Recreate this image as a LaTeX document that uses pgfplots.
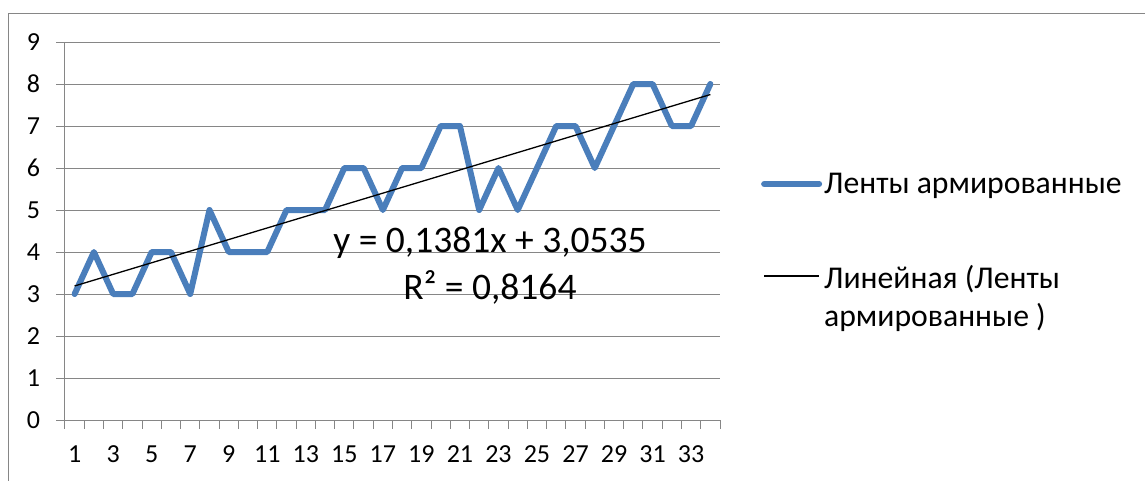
\documentclass[border=0pt]{standalone}
\usepackage{pgfplots}
\pgfplotsset{compat=1.18}
\usepackage{fontspec}
\setmainfont{Carlito}
\definecolor{serblue}{RGB}{74,126,187}
\definecolor{gridgray}{RGB}{134,134,134}
\begin{document}
\begin{tikzpicture}
\useasboundingbox (-65bp,-61bp) rectangle (1080bp,420bp);
\begin{axis}[
  at={(0bp,0bp)}, anchor=south west,
  width=655bp, height=378bp, scale only axis,
  xmin=0.5, xmax=34.5, ymin=0, ymax=9,
  xtick={1,3,...,33}, minor xtick={0.5,1.5,...,34.5},
  ytick={0,1,...,9},
  axis lines*=left,
  axis line style={gridgray, line width=1bp, -},
  ymajorgrids, major grid style={gridgray, line width=1bp},
  tick align=outside,
  major tick length=8.5bp, minor tick length=8.5bp,
  tick style={gridgray, line width=1bp},
  major x tick style={draw=none},
  /pgf/number format/assume math mode=true,
  ticklabel style={font=\fontsize{26bp}{30bp}\selectfont, text=black},
  xticklabel style={yshift=-14bp},
  yticklabel style={xshift=-13bp},
  legend style={at={(1.0625,0.654)}, anchor=north west, draw=none, fill=none,
    font=\fontsize{31.7bp}{38bp}\selectfont, row sep=67bp, column sep=2bp,
    inner sep=0pt, nodes={inner sep=0pt}},
  legend cell align=left,
  legend image code/.code={\draw[#1] (0bp,0bp) -- (55bp,0bp);},
  clip=false,
]
\addplot[serblue, line width=6bp, line join=round, line cap=round] coordinates {
(1,3) (2,4) (3,3) (4,3) (5,4) (6,4) (7,3) (8,5) (9,4) (10,4)
(11,4) (12,5) (13,5) (14,5) (15,6) (16,6) (17,5) (18,6) (19,6) (20,7)
(21,7) (22,5) (23,6) (24,5) (25,6) (26,7) (27,7) (28,6) (29,7) (30,8)
(31,8) (32,7) (33,7) (34,8)};
\addlegendentry{Ленты армированные}
\addplot[black, line width=1.3bp] coordinates {(1,3.1916) (34,7.7489)};
\addlegendentry{\begin{tabular}[t]{@{}l@{}}Линейная (Ленты\\армированные )\end{tabular}}
\node[font=\fontsize{37.5bp}{47bp}\selectfont, align=center] at (axis cs:22.56,3.68) {y = 0,1381x + 3,0535\\R² = 0,8164};
\end{axis}
\draw[gridgray, line width=1.5bp] (-56.7bp,-80bp) rectangle (1100bp,406.7bp);
\end{tikzpicture}
\end{document}
